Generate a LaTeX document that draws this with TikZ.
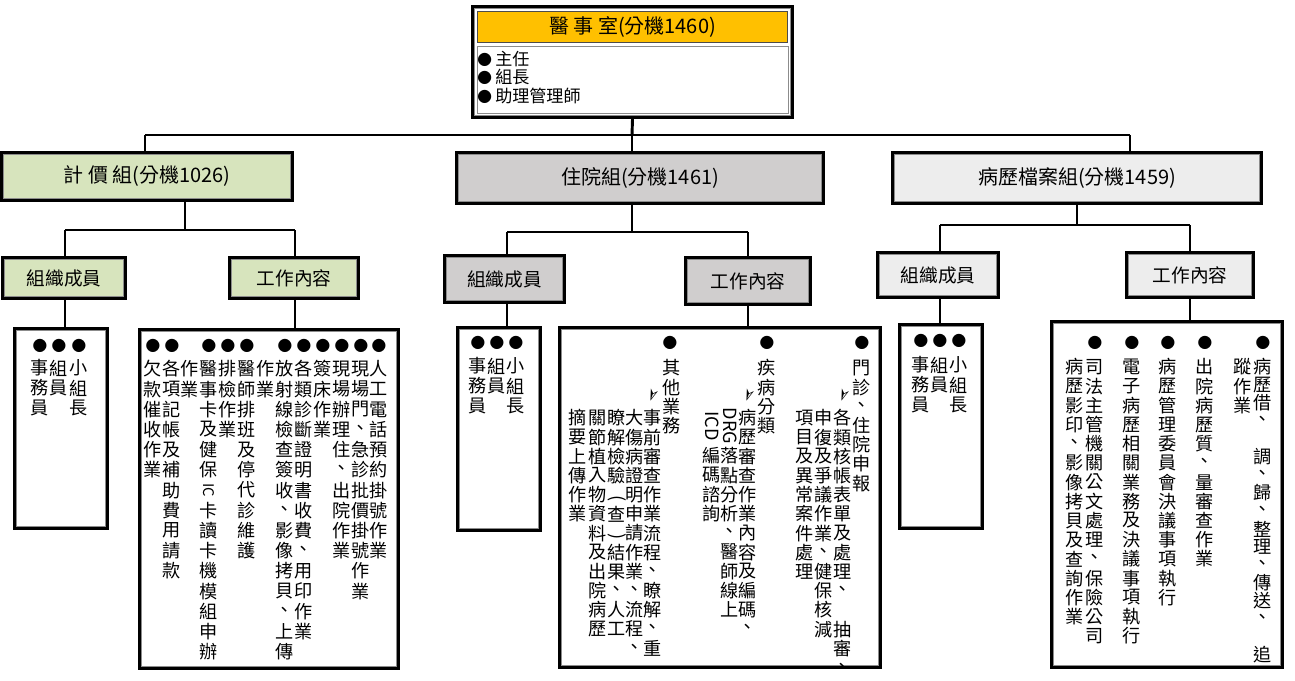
\documentclass[tikz,border=0pt]{standalone}
\usepackage{fontspec}
\setmainfont{Noto Sans CJK TC}
\newfontfamily\djv{DejaVu Sans}
\definecolor{cgreen}{HTML}{D7E4BD}
\definecolor{cgray}{HTML}{D0CECE}
\definecolor{clight}{HTML}{EDEDED}
\definecolor{corange}{HTML}{FFC000}
\tikzset{
  ch/.style={inner sep=0pt, font=\fontsize{13.6}{13.6}\selectfont},
  dotn/.style={inner sep=0pt, font=\fontsize{11}{11}\selectfont},
  ck/.style={inner sep=0pt, font=\djv\fontsize{13}{13}\selectfont, rotate=-110},
  conn/.style={line width=2.2pt},
}
\ExplSyntaxOn
\int_new:N \l_vc_int
\NewDocumentCommand\vcol{O{19.2}mmm}{
  \int_zero:N \l_vc_int
  \tl_map_inline:nn {#4} {
    \node[ch]~at~(#2,{#3+\int_use:N \l_vc_int*#1})~{##1};
    \int_incr:N \l_vc_int
  }
}
\ExplSyntaxOff
% name, x1, y1, x2, y2, fill, text, fontsize
\newcommand\bx[8]{%
  \node[draw=black, line width=3pt, fill=#6, inner sep=0pt,
    minimum width={(#4-#2)*0.75pt}, minimum height={(#5-#3)*0.75pt},
    font=\fontsize{#8}{#8}\selectfont] (#1) at ({(#2+#4)/2},{(#3+#5)/2}) {#7};
  \draw[black!45, line width=0.6pt] ([shift={(3.5,3.5)}]#1.north west) rectangle ([shift={(-3.5,-3.5)}]#1.south east);
}
\begin{document}
\begin{tikzpicture}[x=0.75pt,y=-0.75pt]
\useasboundingbox[fill=white] (0,0) rectangle (1295,681);
% connectors
\coordinate (b1) at (145,135);
\coordinate (b3) at (1130,135);
\coordinate (bm) at (632,135);
% top box
\bx{top}{473}{7}{792}{117}{white}{}{15}
\node[draw=black!70, line width=0.6pt, fill=corange, minimum width={310*0.75pt}, minimum height={31*0.75pt}, inner sep=0pt, font=\fontsize{15}{15}\selectfont] (ttl) at (632.5,27) {醫 事 室(分機1460)};
\draw[black!45, line width=0.6pt] (477,46) rectangle (788,113);
\node[dotn, anchor=west] (t1d) at (477,60) {●};
\node[dotn, anchor=west] (t2d) at (477,78) {●};
\node[dotn, anchor=west] (t3d) at (477,97) {●};
\node[ch, anchor=west, font=\fontsize{12.8}{12.8}\selectfont] (t1) at (495,59) {主任};
\node[ch, anchor=west, font=\fontsize{12.8}{12.8}\selectfont] (t2) at (495,77) {組長};
\node[ch, anchor=west, font=\fontsize{12.8}{12.8}\selectfont] (t3) at (495,96) {助理管理師};
% level 2
\bx{g1}{2}{153}{292}{200}{cgreen}{計 價 組(分機1026)}{15}
\bx{g2}{457}{153}{823}{203}{cgray}{住院組(分機1461)}{15}
\bx{g3}{893}{153}{1261}{203}{clight}{病歷檔案組(分機1459)}{15}
\draw[conn] (b1) -- (b3);
\draw[conn] (top.south) -- (bm);
\draw[conn] (b1) -- (b1 |- g1.north);
\draw[conn] (bm) -- (bm |- g2.north);
\draw[conn] (b3) -- (b3 |- g3.north);
% level 3
\bx{m1}{3}{258}{125}{298}{cgreen}{組織成員}{14}
\bx{w1}{230}{258}{358}{298}{cgreen}{工作內容}{14}
\bx{m2}{445}{256}{564}{302}{cgray}{組織成員}{14}
\bx{w2}{686}{258}{810}{304}{cgray}{工作內容}{14}
\bx{m3}{878}{253}{998}{297}{clight}{組織成員}{14}
\bx{w3}{1127}{253}{1253}{297}{clight}{工作內容}{14}
% detail boxes
\bx{s1}{15}{329}{107}{528}{white}{}{12}
\bx{d1}{140}{330}{398}{668}{white}{}{12}
\bx{s2}{458}{328}{540}{530}{white}{}{12}
\bx{d2}{560}{328}{880}{667}{white}{}{12}
\bx{s3}{900}{325}{982}{528}{white}{}{12}
\bx{d3}{1052}{322}{1282}{667}{white}{}{12}
% sub connectors
\coordinate (k1) at (185,230);
\coordinate (k1a) at (65,230);
\coordinate (k1b) at (295,230);
\draw[conn] (g1.south -| k1) -- (k1);
\draw[conn] (k1a) -- (k1b);
\draw[conn] (k1a) -- (k1a |- m1.north);
\draw[conn] (k1b) -- (k1b |- w1.north);
\draw[conn] (k1a |- m1.south) -- (k1a |- s1.north);
\draw[conn] (k1b |- w1.south) -- (k1b |- d1.north);
\coordinate (k2) at (632,232);
\coordinate (k2a) at (507,232);
\coordinate (k2b) at (748,232);
\draw[conn] (g2.south -| k2) -- (k2);
\draw[conn] (k2a) -- (k2b);
\draw[conn] (k2a) -- (k2a |- m2.north);
\draw[conn] (k2b) -- (k2b |- w2.north);
\draw[conn] (k2a |- m2.south) -- (k2a |- s2.north);
\draw[conn] (k2b |- w2.south) -- (k2b |- d2.north);
\coordinate (k3) at (1077,225);
\coordinate (k3a) at (940,225);
\coordinate (k3b) at (1190,225);
\draw[conn] (g3.south -| k3) -- (k3);
\draw[conn] (k3a) -- (k3b);
\draw[conn] (k3a) -- (k3a |- m3.north);
\draw[conn] (k3b) -- (k3b |- w3.north);
\draw[conn] (k3a |- m3.south) -- (k3a |- s3.north);
\draw[conn] (k3b |- w3.south) -- (k3b |- d3.north);
% small member boxes
\foreach \x in {40,59,79} \node[dotn] at (\x,346) {●};
\vcol[20]{40}{368}{事務員}
\vcol[20]{59}{368}{組員}
\vcol[20]{79}{368}{小組長}
\foreach \x in {478,497,516} \node[dotn] at (\x,343) {●};
\vcol[20]{478}{366}{事務員}
\vcol[20]{497}{366}{組員}
\vcol[20]{516}{366}{小組長}
\foreach \x in {921,940,959} \node[dotn] at (\x,341) {●};
\vcol[20]{921}{365}{事務員}
\vcol[20]{940}{365}{組員}
\vcol[20]{959}{365}{小組長}
% 計價 work
\foreach \x in {153,172,209,228,247,285,304,323,342,361,379} \node[dotn] at (\x,346) {●};
\vcol[20.2]{153}{369}{欠款催收作業}
\vcol[20.2]{172}{369}{各項記帳及補助費用請款}
\vcol[20.2]{190}{369}{作業}
\vcol[20.2]{209}{369}{醫事卡及健保{}卡讀卡機模組申辦}
\node[ch, rotate=-90, font=\fontsize{11}{11}\selectfont] at (209,490) {IC};
\vcol[20.2]{228}{369}{排檢作業}
\vcol[20.2]{247}{369}{醫師排班及停代診維護}
\vcol[20.2]{266}{369}{作業}
\vcol[20.2]{285}{369}{放射線檢查簽收、影像拷貝、上傳}
\vcol[20.2]{304}{369}{各類診斷證明書收費、用印作業}
\vcol[20.2]{323}{369}{簽床作業}
\vcol[20.2]{342}{369}{現場辦理住、出院作業}
\vcol[20.2]{361}{369}{現場門、急診批價掛號作業}
\vcol[20.2]{379}{369}{人工電話預約掛號作業}
% 住院 work
\foreach \x in {862,767,670} \node[dotn] at (\x,343) {●};
\vcol{862}{368}{門診、住院申報}
\node[ck] at (843,395) {➢};
\vcol{843}{418}{各類核帳表單及處理、{}抽審、}
\vcol{824}{418}{申復及爭議作業、健保核減}
\vcol{805}{418}{項目及異常案件處理}
\vcol{767}{368}{疾病分類}
\node[ck] at (748,395) {➢};
\vcol{748}{418}{病歷審查作業內容及編碼、}
\node[ch, rotate=-90] at (730,426) {DRG};
\vcol{730}{456}{落點分析、醫師線上}
\node[ch, rotate=-90] at (712,426) {ICD};
\vcol{712}{456}{編碼諮詢}
\vcol{672}{368}{其他業務}
\node[ck] at (652,395) {➢};
\vcol{653}{418}{事前審查作業流程、瞭解、重}
\vcol{635}{418}{大傷病證明申請作業、流程、}
\vcol{617}{418}{瞭解檢驗{}查{}結果、人工}
\node[ch, rotate=-90] at (617,499) {(};
\node[ch, rotate=-90] at (617,537) {)};
\vcol{598}{418}{關節植入物資料及出院病歷}
\vcol{578}{418}{摘要上傳作業}
% 病歷 work
\foreach \x in {1095,1132,1168,1205,1263} \node[dotn] at (\x,343) {●};
\vcol[18]{1263}{367}{病歷借、{}調、歸、整理、傳送、{}追}
\vcol{1243}{367}{蹤作業}
\vcol{1205}{367}{出院病歷質、量審查作業}
\vcol{1168}{367}{病歷管理委員會決議事項執行}
\vcol{1132}{367}{電子病歷相關業務及決議事項執行}
\vcol{1095}{367}{司法主管機關公文處理、保險公司}
\vcol{1075}{367}{病歷影印、影像拷貝及查詢作業}
\end{tikzpicture}
\end{document}
